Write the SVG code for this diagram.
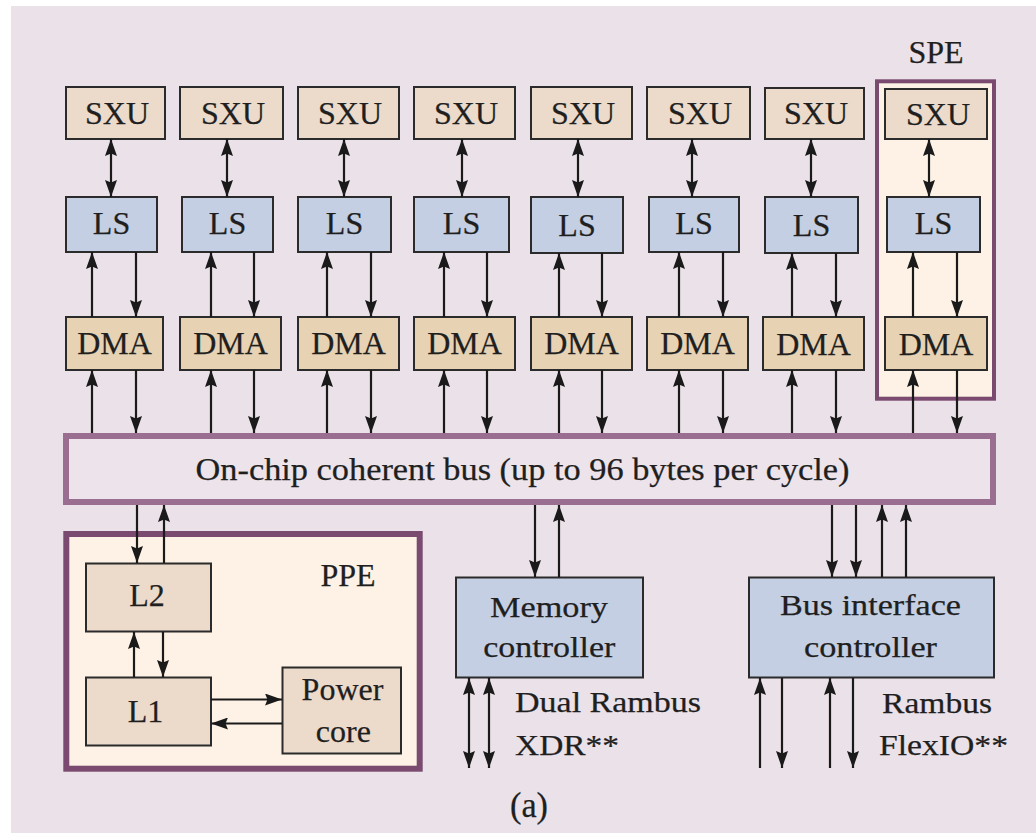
<svg xmlns="http://www.w3.org/2000/svg" width="1036" height="833" viewBox="0 0 1036 833">
<style>
.bg{fill:#ebe1e8}
.box{stroke:#2b2b2b;stroke-width:2}
.sxu{fill:#ecdacb}
.ls{fill:#c4cfe3}
.dma{fill:#e7d2b3}
.core{fill:#ecdacb}
.ctl{fill:#c4cfe3}
text{font-family:'Liberation Serif','Times New Roman',serif;fill:#1f1f1f;stroke:#1f1f1f;stroke-width:0.25px}
.t{font-size:32px}
.s{font-size:30px}
.tm{text-anchor:middle}
.ln{stroke:#1a1a1a;stroke-width:2.2;fill:none}
.a{marker-end:url(#ah)}
.aa{marker-end:url(#ah);marker-start:url(#ah)}
</style>
<defs>
<marker id="ah" viewBox="0 0 17 12" refX="17" refY="6" markerWidth="17" markerHeight="12" markerUnits="userSpaceOnUse" orient="auto-start-reverse">
<path d="M0,0 L17,6 L0,12 L2.5,6 z" fill="#1a1a1a"/>
</marker>
</defs>
<rect class="bg" x="11" y="6" width="1025" height="827"/>

<g id="spe">
<rect x="877" y="81.3" width="117" height="317.4" fill="#fdf2e5" stroke="#7b4a70" stroke-width="4"/>
<text class="t tm" x="936" y="63">SPE</text>
</g>

<g id="col1">
<g id="sxu1"><rect class="box sxu" x="66" y="87" width="99" height="52"/><text class="t tm" x="117" y="124">SXU</text></g>
<g id="ls1"><rect class="box ls" x="66" y="197" width="91" height="55"/><text class="t tm" x="111.5" y="234">LS</text></g>
<g id="dma1"><rect class="box dma" x="66" y="317" width="97" height="53"/><text class="t tm" x="114.5" y="354">DMA</text></g>
</g>
<g id="col2">
<g id="sxu2"><rect class="box sxu" x="180" y="87" width="103" height="52"/><text class="t tm" x="233" y="124">SXU</text></g>
<g id="ls2"><rect class="box ls" x="182" y="197" width="91" height="55"/><text class="t tm" x="227.5" y="234">LS</text></g>
<g id="dma2"><rect class="box dma" x="180" y="317" width="101" height="53"/><text class="t tm" x="230.5" y="354">DMA</text></g>
</g>
<g id="col3">
<g id="sxu3"><rect class="box sxu" x="298" y="87" width="101" height="52"/><text class="t tm" x="350" y="124">SXU</text></g>
<g id="ls3"><rect class="box ls" x="298" y="197" width="93" height="55"/><text class="t tm" x="344.5" y="234">LS</text></g>
<g id="dma3"><rect class="box dma" x="298" y="317" width="101" height="53"/><text class="t tm" x="348.5" y="354">DMA</text></g>
</g>
<g id="col4">
<g id="sxu4"><rect class="box sxu" x="414" y="87" width="101" height="52"/><text class="t tm" x="466" y="124">SXU</text></g>
<g id="ls4"><rect class="box ls" x="414" y="197" width="95" height="55"/><text class="t tm" x="461.5" y="234">LS</text></g>
<g id="dma4"><rect class="box dma" x="414" y="317" width="101" height="53"/><text class="t tm" x="464.5" y="354">DMA</text></g>
</g>
<g id="col5">
<g id="sxu5"><rect class="box sxu" x="531" y="87" width="101" height="52"/><text class="t tm" x="583" y="124">SXU</text></g>
<g id="ls5"><rect class="box ls" x="531" y="197" width="92" height="56"/><text class="t tm" x="577" y="236">LS</text></g>
<g id="dma5"><rect class="box dma" x="531" y="317" width="101" height="53"/><text class="t tm" x="581.5" y="354">DMA</text></g>
</g>
<g id="col6">
<g id="sxu6"><rect class="box sxu" x="647" y="87" width="103" height="52"/><text class="t tm" x="700" y="124">SXU</text></g>
<g id="ls6"><rect class="box ls" x="649" y="197" width="90" height="55"/><text class="t tm" x="694" y="234">LS</text></g>
<g id="dma6"><rect class="box dma" x="647" y="317" width="101" height="53"/><text class="t tm" x="697.5" y="354">DMA</text></g>
</g>
<g id="col7">
<g id="sxu7"><rect class="box sxu" x="765" y="88" width="99" height="51"/><text class="t tm" x="816" y="124">SXU</text></g>
<g id="ls7"><rect class="box ls" x="765" y="197" width="93" height="56"/><text class="t tm" x="811.5" y="236">LS</text></g>
<g id="dma7"><rect class="box dma" x="763" y="317" width="101" height="53"/><text class="t tm" x="813.5" y="355">DMA</text></g>
</g>
<g id="col8">
<g id="sxu8"><rect class="box sxu" x="885" y="89" width="102" height="50"/><text class="t tm" x="938" y="125">SXU</text></g>
<g id="ls8"><rect class="box ls" x="887" y="197" width="93" height="55"/><text class="t tm" x="933.5" y="234">LS</text></g>
<g id="dma8"><rect class="box dma" x="885" y="317" width="102" height="53"/><text class="t tm" x="936" y="355">DMA</text></g>
</g>

<g id="bus">
<rect x="66" y="436" width="927" height="66" fill="#ede3ea" stroke="#9a6e90" stroke-width="6"/>
<text x="195.5" y="480" style="font-size:31px" textLength="654" lengthAdjust="spacingAndGlyphs">On-chip coherent bus (up to 96 bytes per cycle)</text>
</g>

<g id="ppe">
<rect x="66.3" y="534" width="353.4" height="234.7" fill="#fdf2e5" stroke="#7b4a70" stroke-width="6"/>
<text class="t tm" x="348" y="585.7">PPE</text>
<g id="l2"><rect class="box core" x="86" y="563.5" width="125" height="68"/><text class="t tm" x="147" y="605.7">L2</text></g>
<g id="l1"><rect class="box core" x="86" y="677.5" width="125" height="68"/><text class="t tm" x="145.5" y="721.7">L1</text></g>
<g id="power"><rect class="box core" x="282.5" y="667.5" width="118.5" height="86"/><text class="t tm" x="342.5" y="700">Power</text><text class="t tm" x="343.3" y="741.7">core</text></g>
</g>

<g id="memctl">
<rect class="box ctl" x="456" y="577.5" width="187" height="100"/>
<text class="s" x="490" y="616.7" textLength="118" lengthAdjust="spacingAndGlyphs">Memory</text>
<text class="s" x="483.3" y="656.7" textLength="132" lengthAdjust="spacingAndGlyphs">controller</text>
</g>
<g id="bic">
<rect class="box ctl" x="749" y="577.5" width="245" height="100"/>
<text class="s" x="780" y="615" textLength="181" lengthAdjust="spacingAndGlyphs">Bus interface</text>
<text class="s" x="804" y="656.7" textLength="133" lengthAdjust="spacingAndGlyphs">controller</text>
</g>

<g id="labels">
<text class="s" x="515" y="712" textLength="186" lengthAdjust="spacingAndGlyphs">Dual Rambus</text>
<text class="s" x="515" y="755" textLength="104" lengthAdjust="spacingAndGlyphs">XDR**</text>
<text class="s" x="882" y="713" textLength="110" lengthAdjust="spacingAndGlyphs">Rambus</text>
<text class="s" x="879" y="755" textLength="129" lengthAdjust="spacingAndGlyphs">FlexIO**</text>
<text x="510" y="817" style="font-size:36px" textLength="38" lengthAdjust="spacingAndGlyphs">(a)</text>
</g>

<g id="connectors">
<path class="ln aa" d="M111,139 V197"/>
<path class="ln aa" d="M227,139 V197"/>
<path class="ln aa" d="M344,139 V197"/>
<path class="ln aa" d="M462,139 V197"/>
<path class="ln aa" d="M578,139 V197"/>
<path class="ln aa" d="M692,139 V197"/>
<path class="ln aa" d="M811,139 V197"/>
<path class="ln aa" d="M929,139 V197"/>
<path class="ln a" d="M92,317 V252"/><path class="ln a" d="M136,252 V317"/>
<path class="ln a" d="M211,317 V252"/><path class="ln a" d="M254,252 V317"/>
<path class="ln a" d="M327,317 V252"/><path class="ln a" d="M371,252 V317"/>
<path class="ln a" d="M444,317 V252"/><path class="ln a" d="M487,252 V317"/>
<path class="ln a" d="M559,317 V253"/><path class="ln a" d="M602,253 V317"/>
<path class="ln a" d="M679,317 V252"/><path class="ln a" d="M723,252 V317"/>
<path class="ln a" d="M792,317 V253"/><path class="ln a" d="M836,253 V317"/>
<path class="ln a" d="M913,317 V252"/><path class="ln a" d="M957,252 V317"/>
<path class="ln a" d="M92,433 V370"/><path class="ln a" d="M136,370 V433"/>
<path class="ln a" d="M211,433 V370"/><path class="ln a" d="M254,370 V433"/>
<path class="ln a" d="M327,433 V370"/><path class="ln a" d="M371,370 V433"/>
<path class="ln a" d="M444,433 V370"/><path class="ln a" d="M487,370 V433"/>
<path class="ln a" d="M559,433 V370"/><path class="ln a" d="M602,370 V433"/>
<path class="ln a" d="M679,433 V370"/><path class="ln a" d="M723,370 V433"/>
<path class="ln a" d="M792,433 V370"/><path class="ln a" d="M836,370 V433"/>
<path class="ln a" d="M913,433 V370"/><path class="ln a" d="M957,370 V433"/>
<path class="ln a" d="M137,505 V563"/><path class="ln a" d="M164,563 V505"/>
<path class="ln a" d="M134,677 V632"/><path class="ln a" d="M163,632 V677"/>
<path class="ln a" d="M211,699.5 H282"/><path class="ln a" d="M282,723.5 H211"/>
<path class="ln a" d="M535,505 V577"/><path class="ln a" d="M559,577 V505"/>
<path class="ln aa" d="M469,678 V768"/><path class="ln aa" d="M489,678 V768"/>
<path class="ln a" d="M832,505 V577"/><path class="ln a" d="M856,505 V577"/>
<path class="ln a" d="M882,577 V505"/><path class="ln a" d="M906,577 V505"/>
<path class="ln a" d="M760,768 V678"/><path class="ln a" d="M782,678 V768"/>
<path class="ln a" d="M830,768 V678"/><path class="ln a" d="M853,678 V768"/>
</g>
</svg>
